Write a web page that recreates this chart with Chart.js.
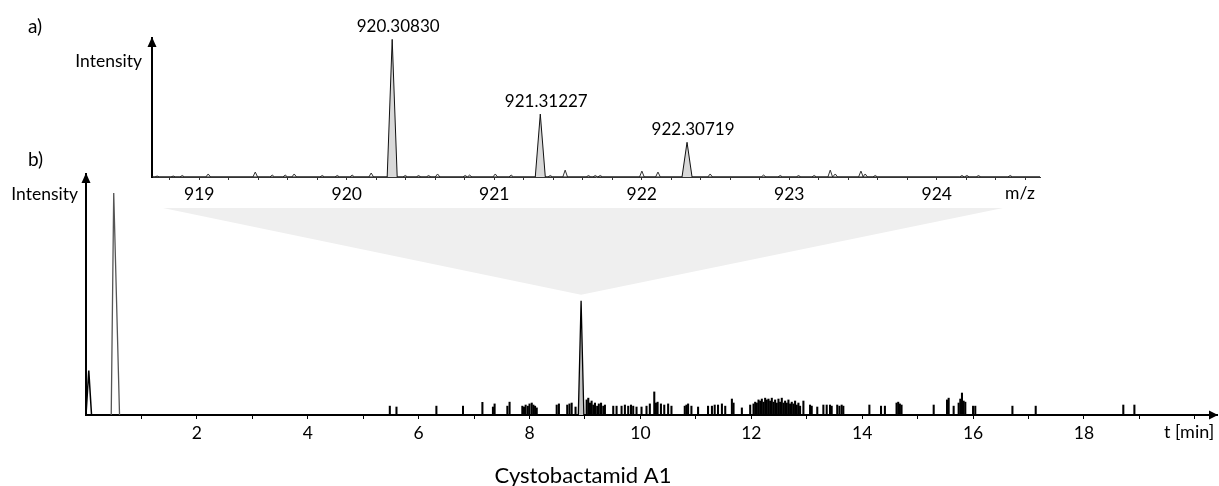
<!DOCTYPE html>
<html>
<head>
<meta charset="utf-8">
<script src="https://cdn.jsdelivr.net/npm/chart.js@4.4.0/dist/chart.umd.min.js"></script>
<style>
html,body{margin:0;padding:0;background:#fff;}
#wrap{position:relative;width:1219px;height:486px;overflow:hidden;background:#fff;}
#wrap canvas{position:absolute;left:0;top:0;}
</style>
</head>
<body>
<div id="wrap">
<canvas id="chrom" width="1219" height="486"></canvas>
<canvas id="spec" width="1219" height="486"></canvas>
</div>
<script>
const FONT = 'Lato, "Open Sans", sans-serif';

// ---------- a) mass spectrum ----------
const mzMin = 918.68, mzMax = 924.70;
const mzTickLabels = [919, 920, 921, 922, 923, 924];
const isotopeMz = [920.30830, 921.31227, 922.30719];
const isotopeIntensity = [100, 45.7, 25.2];
const isotopeLabels = ['920.30830', '921.31227', '922.30719'];
const noiseMz = [918.715, 918.824, 918.885, 919.061, 919.380, 919.495, 919.583, 919.644, 919.834, 919.936,
                 920.037, 920.166, 920.397, 920.487, 920.555, 920.616, 920.803, 920.833, 921.007, 921.115,
                 921.380, 921.481, 921.639, 921.685, 921.719, 922.001, 922.110, 922.464, 922.826, 922.939,
                 923.063, 923.169, 923.278, 923.312, 923.486, 923.515, 923.583, 924.171, 924.205, 924.283,
                 924.498];
const noiseIntensity = [0.7, 0.7, 1.1, 2.2, 3.6, 1.4, 1.4, 2.2, 1.1, 1.1,
                        1.4, 2.9, 1.1, 1.1, 1.1, 2.2, 1.1, 1.4, 2.2, 1.4,
                        1.1, 5.0, 1.1, 1.1, 1.1, 4.3, 3.6, 2.2, 1.4, 1.1,
                        1.1, 1.1, 5.0, 2.2, 4.3, 2.2, 1.1, 1.1, 1.1, 1.1,
                        1.1];

// ---------- b) chromatogram ----------
const tMin = 0, tMax = 20.4;
const timeTickLabels = [2, 4, 6, 8, 10, 12, 14, 16, 18];
const earlyPeakTime = [0.0, 0.05, 0.10];
const earlyPeakIntensity = [0, 20, 0];
const solventPeakTime = [0.455, 0.50, 0.605];
const solventPeakIntensity = [0, 100, 0];
const targetPeakTime = [8.88, 8.93, 8.98];
const targetPeakIntensity = [0, 51.5, 0];
const spikeTime = [5.48, 5.60, 6.32, 6.80, 7.15, 7.34, 7.37, 7.60, 7.64, 7.87, 7.90, 7.93, 7.97, 8.00, 8.04, 8.07, 8.10, 8.13, 8.49, 8.53, 8.68, 8.72, 8.76, 8.83,
  9.03, 9.06, 9.09, 9.12, 9.15, 9.18, 9.22, 9.25, 9.29, 9.33, 9.36, 9.51, 9.57, 9.66, 9.72, 9.78, 9.83, 9.87, 9.93, 10.02, 10.11, 10.17, 10.25, 10.28, 10.31, 10.37, 10.43, 10.50, 10.56, 10.80, 10.83, 10.86, 10.92, 11.04, 11.22, 11.29, 11.34, 11.40, 11.47, 11.53, 11.65, 11.68, 11.83,
  11.98, 12.04, 12.07, 12.10, 12.13, 12.16, 12.19, 12.22, 12.25, 12.28, 12.31, 12.34, 12.37, 12.40, 12.43, 12.46, 12.49, 12.52, 12.55, 12.58, 12.61, 12.64, 12.67, 12.70, 12.73, 12.76, 12.79, 12.82, 12.85, 12.88, 12.94,
  13.06, 13.09, 13.19, 13.30, 13.36, 13.42, 13.45, 13.55, 13.59, 13.63, 13.66, 14.13, 14.34, 14.41, 14.62, 14.65, 14.68, 14.71, 15.29, 15.53, 15.56, 15.65, 15.74, 15.77, 15.80, 15.83, 15.86, 16.00, 16.04, 16.71, 17.13, 18.71, 18.91];
const spikeIntensity = [4.0, 3.6, 4.0, 4.0, 5.7, 3.6, 5.0, 4.0, 5.8, 4.0, 3.6, 4.5, 4.0, 5.0, 5.4, 4.5, 4.0, 3.2, 4.5, 5.0, 4.5, 5.0, 5.4, 3.6,
  6.8, 7.6, 5.4, 6.3, 4.5, 5.4, 4.0, 5.0, 5.4, 4.0, 4.5, 4.0, 4.0, 4.0, 4.5, 4.0, 4.5, 4.0, 3.6, 3.6, 4.0, 5.0, 10.4, 5.4, 5.8, 5.0, 4.5, 5.0, 4.0, 4.0, 4.5, 5.0, 4.0, 3.6, 4.0, 4.0, 4.5, 4.5, 5.0, 4.0, 7.2, 5.4, 3.2,
  4.5, 5.0, 5.8, 5.4, 6.8, 6.3, 7.2, 5.8, 7.6, 6.8, 7.2, 6.3, 7.6, 5.8, 6.8, 5.4, 7.2, 5.8, 7.6, 5.4, 6.3, 5.4, 6.8, 5.0, 5.8, 5.0, 6.3, 4.5, 5.4, 4.0, 6.3,
  4.5, 4.0, 3.6, 4.5, 4.5, 4.5, 4.0, 4.5, 4.0, 4.5, 4.0, 4.5, 4.0, 4.0, 5.4, 5.8, 5.0, 4.5, 4.5, 6.8, 7.6, 4.0, 5.4, 7.2, 9.9, 6.3, 5.8, 4.0, 4.0, 4.0, 4.0, 4.5, 4.5];
const compoundName = 'Cystobactamid A1';

// ---------- helpers ----------
const xy = (xs, ys) => xs.map((x, i) => ({x: x, y: ys[i]}));
function peakProfile(centers, heights, hw, lo, hi) {
  const pts = [{x: lo, y: 0}];
  centers.forEach((c, i) => { pts.push({x: c - hw, y: 0}, {x: c, y: heights[i]}, {x: c + hw, y: 0}); });
  pts.push({x: hi, y: 0});
  return pts;
}
function stepTicks(min, max, step) {
  const out = [];
  for (let k = Math.ceil(min / step - 1e-9); k * step <= max + 1e-9; k++) out.push({value: Math.round(k * step * 1000) / 1000});
  return out;
}
function labelFrom(list) {
  return v => (list.some(l => Math.abs(l - v) < 1e-6) ? String(Math.round(v)) : '');
}
function arrowUp(ctx, x, y) {
  ctx.beginPath(); ctx.moveTo(x, y - 1); ctx.lineTo(x - 4.5, y + 9); ctx.lineTo(x + 4.5, y + 9); ctx.closePath(); ctx.fill();
}

// ---------- chart b) ----------
const chromDecor = {
  id: 'chromDecor',
  beforeDatasetsDraw(chart) {
    const {ctx, scales: {x, y}} = chart;
    const ax = x.getPixelForValue(targetPeakTime[1]);
    const ay = y.getPixelForValue(targetPeakIntensity[1]) - 6;
    ctx.save();
    ctx.fillStyle = '#efefef';
    ctx.beginPath(); ctx.moveTo(163, 208); ctx.lineTo(1003, 208); ctx.lineTo(ax, ay); ctx.closePath(); ctx.fill();
    ctx.restore();
  },
  afterDraw(chart) {
    const {ctx, chartArea: a} = chart;
    ctx.save();
    ctx.fillStyle = '#000';
    arrowUp(ctx, a.left, a.top);
    ctx.beginPath(); ctx.moveTo(a.right + 1, a.bottom); ctx.lineTo(a.right - 8, a.bottom - 4.5); ctx.lineTo(a.right - 8, a.bottom + 4.5); ctx.closePath(); ctx.fill();
    ctx.textBaseline = 'alphabetic';
    ctx.font = '19px ' + FONT; ctx.textAlign = 'left'; ctx.fillText('b)', 28, 166);
    ctx.font = '17.5px ' + FONT; ctx.textAlign = 'right'; ctx.fillText('Intensity', a.left - 8, 200);
    ctx.font = '18px ' + FONT; ctx.textAlign = 'left'; ctx.fillText('t [min]', 1164, 438);
    ctx.font = '22px ' + FONT; ctx.textAlign = 'center'; ctx.fillText(compoundName, 583, 483);
    ctx.restore();
  }
};

new Chart(document.getElementById('chrom'), {
  type: 'line',
  data: {
    datasets: [
      {type: 'bar', data: xy(spikeTime, spikeIntensity), backgroundColor: '#000', borderWidth: 0, barThickness: 1.4, order: 3},
      {data: xy(earlyPeakTime, earlyPeakIntensity), borderColor: '#000', borderWidth: 1.5, pointRadius: 0, fill: false, order: 2},
      {data: xy(solventPeakTime, solventPeakIntensity), borderColor: '#555', borderWidth: 1.3, pointRadius: 0, fill: false, order: 1},
      {data: xy(targetPeakTime, targetPeakIntensity), borderColor: '#000', borderWidth: 1.3, backgroundColor: '#c4c4c4', pointRadius: 0, fill: 'origin', order: 0}
    ]
  },
  options: {
    responsive: false, animation: false, devicePixelRatio: 1, events: [],
    layout: {padding: {left: 86, right: 2, top: 174, bottom: 31}},
    plugins: {legend: {display: false}, tooltip: {enabled: false}},
    scales: {
      x: {
        type: 'linear', min: tMin, max: tMax, offset: false,
        afterFit(s) { s.height = 40; },
        afterBuildTicks(s) { s.ticks = stepTicks(1, tMax, 1); },
        ticks: {autoSkip: false, maxRotation: 0, padding: 4, color: '#000', font: {family: FONT, size: 17.5}, callback: labelFrom(timeTickLabels)},
        grid: {display: true, drawOnChartArea: false, drawTicks: true, tickLength: 4, color: '#000', lineWidth: 1, offset: false},
        border: {display: true, color: '#000', width: 2}
      },
      y: {
        min: 0, max: 108.6,
        afterFit(s) { s.width = 0; },
        ticks: {display: false},
        grid: {display: false},
        border: {display: true, color: '#000', width: 2}
      }
    }
  },
  plugins: [chromDecor]
});

// ---------- chart a) ----------
const specDecor = {
  id: 'specDecor',
  afterDraw(chart) {
    const {ctx, chartArea: a, scales: {x, y}} = chart;
    ctx.save();
    ctx.fillStyle = '#000';
    arrowUp(ctx, a.left, a.top);
    ctx.textBaseline = 'alphabetic';
    ctx.font = '17px ' + FONT; ctx.textAlign = 'center';
    isotopeLabels.forEach((t, i) => {
      ctx.fillText(t, x.getPixelForValue(isotopeMz[i]) + 6, y.getPixelForValue(isotopeIntensity[i]) - 7);
    });
    ctx.font = '19px ' + FONT; ctx.textAlign = 'left'; ctx.fillText('a)', 28, 33);
    ctx.font = '17.5px ' + FONT; ctx.textAlign = 'right'; ctx.fillText('Intensity', a.left - 10, 67);
    ctx.font = '17.5px ' + FONT; ctx.textAlign = 'left'; ctx.fillText('m/z', 1005, 199);
    ctx.restore();
  }
};

new Chart(document.getElementById('spec'), {
  type: 'line',
  data: {
    datasets: [
      {data: peakProfile(noiseMz, noiseIntensity, 0.016, mzMin, mzMax), borderColor: '#333', borderWidth: 1, pointRadius: 0, fill: false, order: 1},
      {data: peakProfile(isotopeMz, isotopeIntensity, 0.034, mzMin, mzMax), borderColor: '#111', borderWidth: 1, backgroundColor: '#d9d9d9', pointRadius: 0, fill: 'origin', order: 0}
    ]
  },
  options: {
    responsive: false, animation: false, devicePixelRatio: 1, events: [],
    layout: {padding: {left: 152, right: 179, top: 38, bottom: 269}},
    plugins: {legend: {display: false}, tooltip: {enabled: false}},
    scales: {
      x: {
        type: 'linear', min: mzMin, max: mzMax, offset: false,
        afterFit(s) { s.height = 40; },
        afterBuildTicks(s) { s.ticks = stepTicks(mzMin, mzMax, 0.2); },
        ticks: {autoSkip: false, maxRotation: 0, padding: 4, color: '#000', font: {family: FONT, size: 17.5}, callback: labelFrom(mzTickLabels)},
        grid: {display: true, drawOnChartArea: false, drawTicks: true, tickLength: 3, color: '#333', lineWidth: 1, offset: false},
        border: {display: true, color: '#333', width: 1}
      },
      y: {
        min: 0, max: 101,
        afterFit(s) { s.width = 0; },
        ticks: {display: false},
        grid: {display: false},
        border: {display: true, color: '#000', width: 2}
      }
    }
  },
  plugins: [specDecor]
});
</script>
</body>
</html>
